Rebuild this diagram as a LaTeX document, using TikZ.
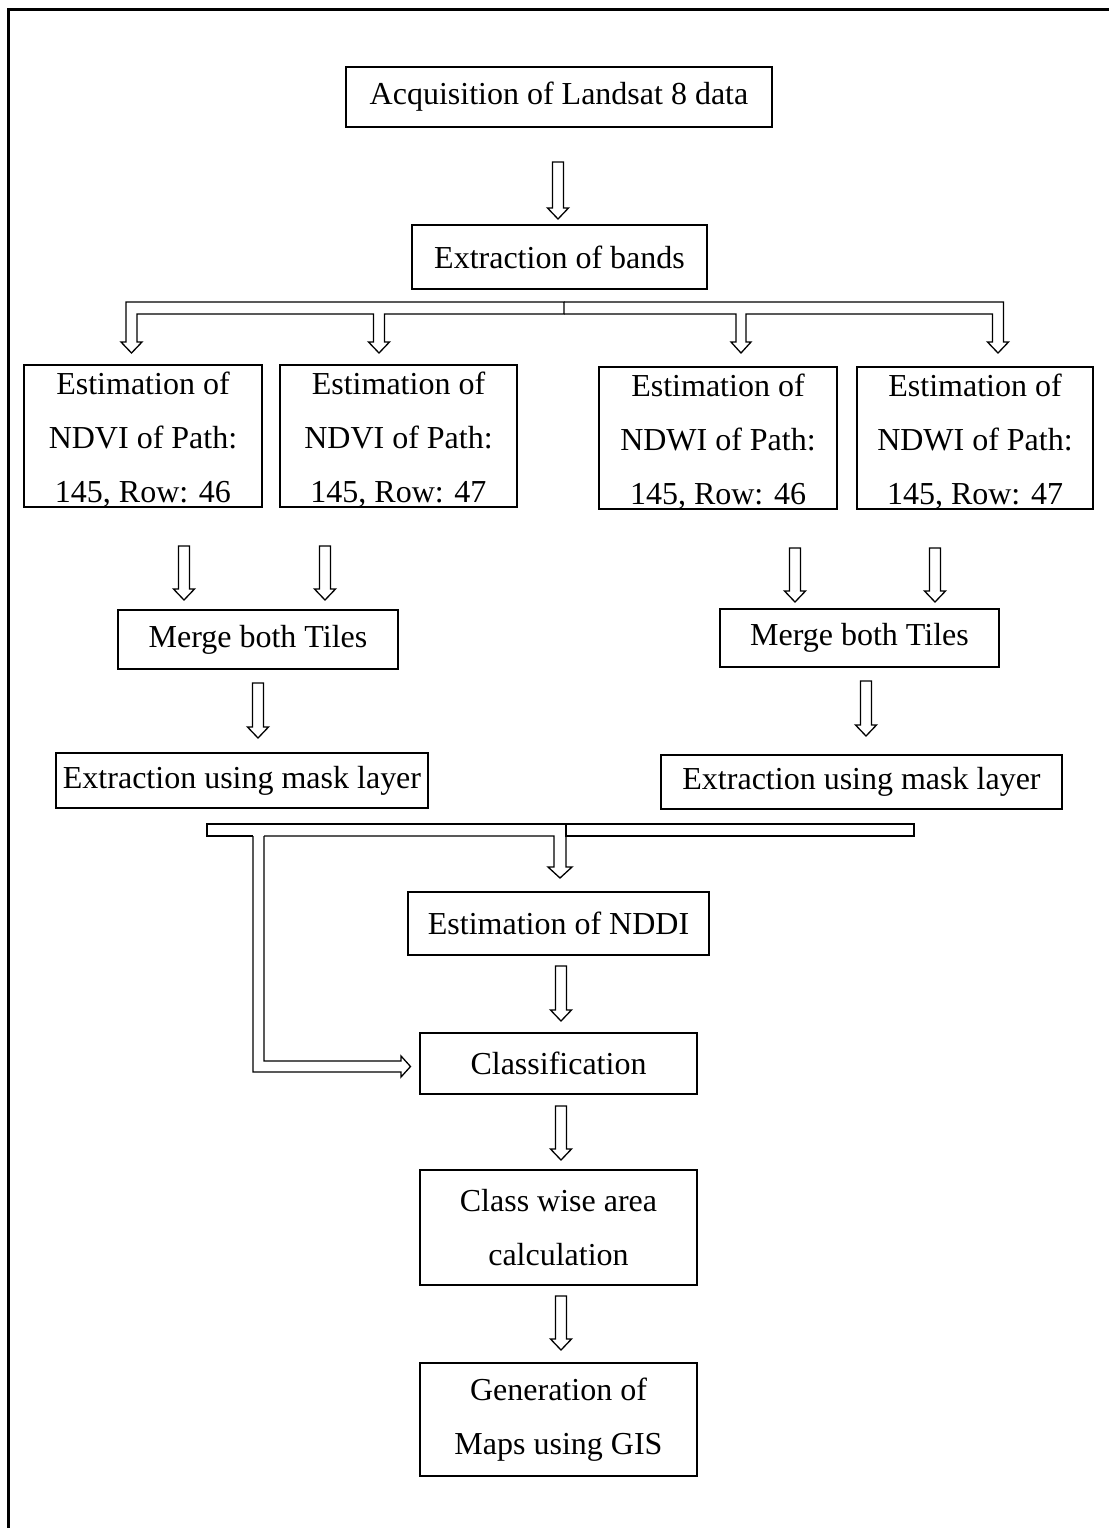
\documentclass[tikz,border=0pt]{standalone}
\usepackage{fontspec}
\setmainfont{Liberation Serif}
\usetikzlibrary{calc}
\tikzset{
  box/.style={draw=black, line width=1.3pt, inner sep=0pt, align=center,
    font=\fontsize{32}{54}\selectfont},
  txt/.style={inner sep=0pt, align=center, font=\fontsize{32}{54}\selectfont},
  conn/.style={draw=black, line width=1.3pt, line join=miter},
  blk/.style={conn, to path={let \p1=(\tikztostart), \p2=(\tikztotarget) in
    (\x1-5.5pt,\y1) -- (\x1-5.5pt,\y2+11pt) -- (\x1-10.5pt,\y2+11pt) -- (\x1,\y2)
    -- (\x1+10.5pt,\y2+11pt) -- (\x1+5.5pt,\y2+11pt) -- (\x1+5.5pt,\y1) -- cycle}}
}
\begin{document}
\begin{tikzpicture}[x=1pt,y=-1pt]
\useasboundingbox (0,0) rectangle (1108,1528);
% frame
\draw[line width=3pt] (8,1530) -- (8,10) -- (1110,10);

% boxes
\node[box, minimum width=426, minimum height=60] (acq) at (559,97) {Acquisition of Landsat 8 data};
\node[box, minimum width=295, minimum height=64] (bands) at (559.5,257) {Extraction of bands};
\node[box, minimum width=238, minimum height=142] (ndvi46) at (143,436) {};
\node[box, minimum width=237, minimum height=142] (ndvi47) at (398.5,436) {};
\node[box, minimum width=238, minimum height=142] (ndwi46) at (718,438) {};
\node[box, minimum width=236, minimum height=142] (ndwi47) at (975,438) {};
\node[txt] (t46) at ($(ndvi46.center)+(0,4)$) {Estimation of\\NDVI of Path:\\145, Row: 46};
\node[txt] (t47) at ($(ndvi47.center)+(0,4)$) {Estimation of\\NDVI of Path:\\145, Row: 47};
\node[txt] (w46) at ($(ndwi46.center)+(0,4)$) {Estimation of\\NDWI of Path:\\145, Row: 46};
\node[txt] (w47) at ($(ndwi47.center)+(0,4)$) {Estimation of\\NDWI of Path:\\145, Row: 47};
\node[box, minimum width=280, minimum height=59] (mergeL) at (258,639.5) {Merge both Tiles};
\node[box, minimum width=279, minimum height=58] (mergeR) at (859.5,638) {Merge both Tiles};
\node[box, minimum width=372, minimum height=55] (extrL) at (242,780.5) {Extraction using mask layer};
\node[box, minimum width=401, minimum height=54] (extrR) at (861.5,782) {Extraction using mask layer};
\node[box, minimum width=301, minimum height=63] (nddi) at (558.5,923.5) {Estimation of NDDI};
\node[box, minimum width=277, minimum height=61] (class) at (558.5,1063.5) {Classification};
\node[box, minimum width=277, minimum height=115] (area) at (558.5,1227.5) {Class wise area\\calculation};
\node[box, minimum width=277, minimum height=113] (maps) at (558.5,1419.5) {Generation of\\Maps using GIS};

% simple block arrows
\coordinate (a1s) at (558,162);  \coordinate (a1e) at (558,219);
\coordinate (a2s) at (184,546);  \coordinate (a2e) at (184,600);
\coordinate (a3s) at (325,546);  \coordinate (a3e) at (325,600);
\coordinate (a4s) at (795,548);  \coordinate (a4e) at (795,602);
\coordinate (a5s) at (935,548);  \coordinate (a5e) at (935,602);
\coordinate (a6s) at (258,683);  \coordinate (a6e) at (258,738);
\coordinate (a7s) at (866,681);  \coordinate (a7e) at (866,736);
\coordinate (a8s) at (561,966);  \coordinate (a8e) at (561,1021);
\coordinate (a9s) at (561,1106); \coordinate (a9e) at (561,1160);
\coordinate (a10s) at (561,1296); \coordinate (a10e) at (561,1350);
\foreach \i in {1,...,10} {\draw[blk] (a\i s) to (a\i e);}

% top branching block arrows
\draw[conn] (564,302) -- (126,302) -- (126,342) -- (121,342) -- (131.5,353) -- (142,342)
  -- (137,342) -- (137,314) -- (373.5,314) -- (373.5,342) -- (368.5,342) -- (379,353)
  -- (389.5,342) -- (384.5,342) -- (384.5,314) -- (564,314) -- cycle;
\draw[conn] (564,302) -- (1003.5,302) -- (1003.5,342) -- (1008.5,342) -- (998,353)
  -- (987.5,342) -- (992.5,342) -- (992.5,314) -- (746,314) -- (746,342) -- (751,342)
  -- (741,353) -- (731,342) -- (736,342) -- (736,314) -- (564,314);

% bottom merging bar
\draw[conn] (566,824) rectangle (914,836);
\draw[conn] (566,824) -- (207,824) -- (207,836) -- (253,836);
\draw[conn] (264,836) -- (554,836) -- (554,867) -- (548,867) -- (560,878) -- (572,867)
  -- (566,867) -- (566,824);
\draw[conn] (253,836) -- (253,1072) -- (401,1072) -- (401,1077) -- (410.5,1066.5)
  -- (401,1056) -- (401,1061) -- (264,1061) -- (264,836);
\end{tikzpicture}
\end{document}
